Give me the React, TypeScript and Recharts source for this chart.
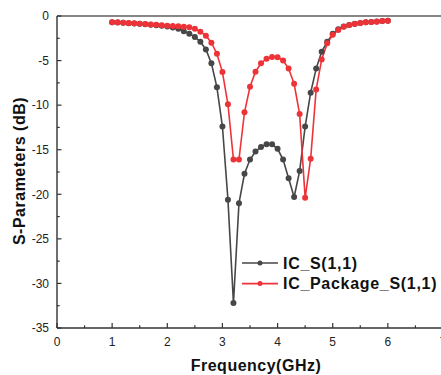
import React from "react";
import {
  Legend,
  Line,
  LineChart,
  ReferenceLine,
  XAxis,
  YAxis,
} from "recharts";

const frequency = [
  1.0, 1.1, 1.2, 1.3, 1.4, 1.5, 1.6, 1.7, 1.8, 1.9, 2.0, 2.1, 2.2, 2.3, 2.4,
  2.5, 2.6, 2.7, 2.8, 2.9, 3.0, 3.1, 3.2, 3.3, 3.4, 3.5, 3.6, 3.7, 3.8, 3.9,
  4.0, 4.1, 4.2, 4.3, 4.4, 4.5, 4.6, 4.7, 4.8, 4.9, 5.0, 5.1, 5.2, 5.3, 5.4,
  5.5, 5.6, 5.7, 5.8, 5.9, 6.0,
];

const icS11 = [
  -0.71, -0.72, -0.76, -0.8, -0.84, -0.88, -0.93, -0.98, -1.03, -1.1, -1.18,
  -1.28, -1.42, -1.7, -1.98, -2.35, -2.9, -3.75, -5.3, -8.0, -12.4, -20.6,
  -32.2, -21.0, -17.7, -16.1, -15.2, -14.7, -14.4, -14.4, -14.9, -16.1, -18.2,
  -20.3, -17.4, -12.4, -8.6, -5.9, -4.0, -2.9, -2.0, -1.5, -1.18, -1.0, -0.88,
  -0.78, -0.7, -0.66, -0.62, -0.56, -0.52,
];

const icPackageS11 = [
  -0.71, -0.71, -0.75, -0.78, -0.82, -0.86, -0.9, -0.94, -0.97, -1.05, -1.08,
  -1.12, -1.16, -1.2, -1.27, -1.42, -1.76, -2.21, -3.0, -4.23, -6.29, -9.9,
  -16.1, -16.1, -10.8, -7.94, -6.25, -5.3, -4.79, -4.6, -4.64, -5.0, -5.9, -7.6,
  -11.0, -20.4, -16.0, -8.24, -4.87, -3.07, -2.1, -1.57, -1.2, -1.01, -0.9,
  -0.79, -0.71, -0.67, -0.64, -0.56, -0.52,
];

const xTicks = [
  0, 0.5, 1, 1.5, 2, 2.5, 3, 3.5, 4, 4.5, 5, 5.5, 6, 6.5, 7,
];
const yTicks = [
  -35, -32.5, -30, -27.5, -25, -22.5, -20, -17.5, -15, -12.5, -10, -7.5, -5,
  -2.5, 0,
];

const GRAY = "#474747";
const RED = "#ee3338";
const AXIS = "#333333";
const FONT = "'Liberation Sans', Arial, sans-serif";

const chartData = frequency.map((f, i) => ({
  f,
  ic: icS11[i],
  pkg: icPackageS11[i],
}));

function XTick(props: any) {
  const { x, y, payload } = props;
  const major = Number.isInteger(payload.value);
  return (
    <g>
      <line x1={x} y1={y} x2={x} y2={y - (major ? 5 : 2.7)} stroke={AXIS} strokeWidth={1.2} />
      {major && (
        <text x={x} y={y + 9} dy="0.71em" textAnchor="middle" fontSize={12} fill="#222" fontFamily={FONT}>
          {payload.value}
        </text>
      )}
    </g>
  );
}

function YTick(props: any) {
  const { x, y, payload } = props;
  const major = payload.value % 5 === 0;
  return (
    <g>
      <line x1={x} y1={y} x2={x + (major ? 4.5 : 2.7)} y2={y} stroke={AXIS} strokeWidth={1.2} />
      {major && (
        <text x={x - 8} y={y} dy="0.36em" textAnchor="end" fontSize={12} fill="#222" fontFamily={FONT}>
          {payload.value}
        </text>
      )}
    </g>
  );
}

function LegendBox() {
  const rows = [
    { name: "IC_S(1,1)", color: GRAY },
    { name: "IC_Package_S(1,1)", color: RED },
  ];
  return (
    <svg width={200} height={44} style={{ overflow: "visible", display: "block" }}>
      {rows.map((row, i) => {
        const cy = 10 + i * 20.6;
        return (
          <g key={row.name}>
            <line x1={0} y1={cy} x2={36} y2={cy} stroke={row.color} strokeWidth={1.6} />
            <circle cx={18} cy={cy} r={2.5} fill={row.color} />
            <text
              x={41}
              y={cy}
              dy="0.36em"
              fontSize={16}
              fontWeight="bold"
              letterSpacing={0.7}
              fill="#111"
              fontFamily={FONT}
            >
              {row.name}
            </text>
          </g>
        );
      })}
    </svg>
  );
}

export default function App() {
  return (
    <div
      style={{
        position: "absolute",
        left: 0,
        top: 0,
        width: 441,
        height: 375,
        overflow: "hidden",
        background: "#fff",
      }}
    >
      <LineChart
        width={447}
        height={375}
        data={chartData}
        margin={{ top: 16, right: 4, bottom: 0, left: 0 }}
      >
        <XAxis
          dataKey="f"
          type="number"
          domain={[0, 7]}
          ticks={xTicks}
          interval={0}
          tickSize={0}
          tickMargin={0}
          height={47}
          axisLine={{ stroke: AXIS, strokeWidth: 1.4 }}
          tick={<XTick />}
          label={{
            value: "Frequency(GHz)",
            position: "insideBottom",
            offset: 4,
            dx: 6,
            fontSize: 16,
            fontWeight: "bold",
            letterSpacing: 0.5,
            fill: "#111",
            fontFamily: FONT,
          }}
        />
        <YAxis
          type="number"
          domain={[-35, 0]}
          ticks={yTicks}
          interval={0}
          tickSize={0}
          tickMargin={0}
          width={57}
          axisLine={{ stroke: AXIS, strokeWidth: 1.4 }}
          tick={<YTick />}
          label={{
            content: () => (
              <text
                x={19}
                y={171}
                transform="rotate(-90 19 171)"
                textAnchor="middle"
                dy="0.36em"
                fontSize={16}
                fontWeight="bold"
                letterSpacing={0.5}
                fill="#111"
                fontFamily={FONT}
              >
                S-Parameters (dB)
              </text>
            ),
          }}
        />
        <ReferenceLine y={0} stroke="#111" strokeWidth={1.2} />
        <ReferenceLine x={7} stroke="#111" strokeWidth={1.2} />
        <Legend
          layout="horizontal"
          align="center"
          verticalAlign="middle"
          content={<LegendBox />}
          wrapperStyle={{ position: "absolute", left: 242, top: 253, width: 200 }}
        />
        <Line
          type="linear"
          dataKey="ic"
          name="IC_S(1,1)"
          stroke={GRAY}
          strokeWidth={1.6}
          dot={{ r: 3, fill: GRAY, stroke: GRAY, strokeWidth: 0 }}
          isAnimationActive={false}
        />
        <Line
          type="linear"
          dataKey="pkg"
          name="IC_Package_S(1,1)"
          stroke={RED}
          strokeWidth={1.6}
          dot={{ r: 3, fill: RED, stroke: RED, strokeWidth: 0 }}
          isAnimationActive={false}
        />
      </LineChart>
    </div>
  );
}
